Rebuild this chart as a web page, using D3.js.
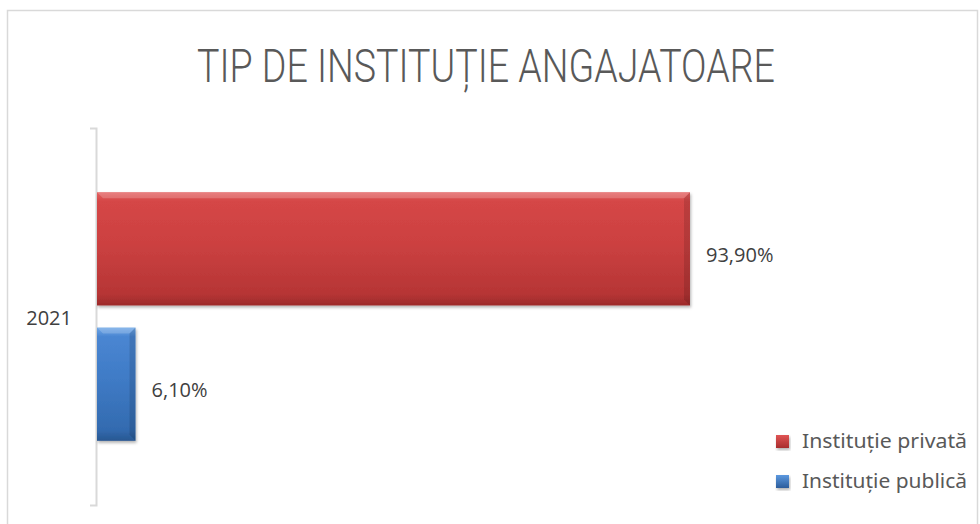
<!DOCTYPE html>
<html>
<head>
<meta charset="utf-8">
<script src="https://cdn.jsdelivr.net/npm/d3@7"></script>
<style>
  body { margin: 0; background: #fff; }
  svg { display: block; }
</style>
</head>
<body>
<div class="my-graph"></div>
<script>
const categories = ['2021']
const seriesNames = ['Instituție privată', 'Instituție publică']
const seriesValues = [93.9, 6.1]
const valueLabels = ['93,90%', '6,10%']

const width = 980
const height = 524

const svg = d3.select('.my-graph')
  .append('svg')
  .attr('width', width)
  .attr('height', height)

const defs = svg.append('defs')

const palettes = [
  { id: 'gradRed', stops: ['#e46464', '#d54646', '#cc4141', '#b63535', '#9c2a2a'], legend: ['#e05555', '#a82c2c'] },
  { id: 'gradBlue', stops: ['#6fa7e6', '#4a86d2', '#3f7bc6', '#336bb0', '#285791'], legend: ['#5c98df', '#2b5d9b'] }
]

palettes.forEach(p => {
  const g = defs.append('linearGradient')
    .attr('id', p.id)
    .attr('x1', 0).attr('y1', 0).attr('x2', 0).attr('y2', 1)
  const offs = [0, 0.08, 0.45, 0.9, 1]
  p.stops.forEach((c, i) => {
    g.append('stop').attr('offset', offs[i]).attr('stop-color', c)
  })
  const gl = defs.append('linearGradient')
    .attr('id', p.id + 'L')
    .attr('x1', 0).attr('y1', 0).attr('x2', 0).attr('y2', 1)
  gl.append('stop').attr('offset', 0).attr('stop-color', p.legend[0])
  gl.append('stop').attr('offset', 1).attr('stop-color', p.legend[1])
})

const shadow = defs.append('filter')
  .attr('id', 'shadow')
  .attr('x', '-5%').attr('y', '-10%')
  .attr('width', '115%').attr('height', '130%')
shadow.append('feDropShadow')
  .attr('dx', 1).attr('dy', 2)
  .attr('stdDeviation', 1.5)
  .attr('flood-color', '#000')
  .attr('flood-opacity', 0.3)

// chart frame
svg.append('rect')
  .attr('x', 7.5).attr('y', 10.5)
  .attr('width', 970).attr('height', 530)
  .attr('fill', 'none')
  .attr('stroke', '#d9d9d9')
  .attr('stroke-width', 1.5)

svg.append('text')
  .attr('x', 486)
  .attr('y', 82)
  .attr('text-anchor', 'middle')
  .attr('font-family', 'Roboto, "Noto Sans", sans-serif')
  .attr('font-weight', 300)
  .attr('font-size', 46)
  .attr('fill', '#595959')
  .attr('textLength', 578)
  .attr('lengthAdjust', 'spacingAndGlyphs')
  .text('TIP DE INSTITUȚIE ANGAJATOARE')

const xScale = d3.scaleLinear()
  .domain([0, 100])
  .range([97, 728.5])

const yScale = d3.scaleBand()
  .domain(categories)
  .range([128, 505])

const inner = d3.scaleBand()
  .domain(seriesNames)
  .range([0, yScale.bandwidth()])
  .paddingInner(0.163)
  .paddingOuter(0.474)

const yAxis = svg.append('g')
  .attr('transform', 'translate(96, 0)')
  .call(d3.axisLeft(yScale).tickSize(0).tickSizeOuter(6).tickPadding(24))

yAxis.select('.domain')
  .attr('stroke', '#d9d9d9')
  .attr('stroke-width', 2)
yAxis.selectAll('.tick text')
  .attr('font-family', '"Open Sans", "Noto Sans", sans-serif')
  .attr('font-size', 20)
  .attr('fill', '#404040')
  .attr('dy', '0.4em')

const data = seriesNames.map((name, i) => ({
  name,
  value: seriesValues[i],
  label: valueLabels[i],
  fill: `url(#${palettes[i].id})`,
  legendFill: `url(#${palettes[i].id}L)`
}))

const bars = svg.selectAll('.bar')
  .data(data)
  .enter().append('g')
  .attr('class', 'bar')

bars.append('rect')
  .attr('x', xScale(0))
  .attr('y', d => yScale(categories[0]) + inner(d.name))
  .attr('width', d => xScale(d.value) - xScale(0))
  .attr('height', inner.bandwidth())
  .attr('fill', d => d.fill)
  .attr('filter', 'url(#shadow)')

// bevel edges
bars.append('path')
  .attr('d', d => {
    const x1 = xScale(d.value)
    const y0 = yScale(categories[0]) + inner(d.name), y1 = y0 + inner.bandwidth()
    const b = 6
    return `M${x1},${y0}L${x1},${y1}L${x1 - b},${y1 - b}L${x1 - b},${y0 + b}Z`
  })
  .attr('fill', '#000')
  .attr('opacity', 0.12)

bars.append('path')
  .attr('d', d => {
    const x0 = xScale(0), x1 = xScale(d.value)
    const y0 = yScale(categories[0]) + inner(d.name)
    const b = 6
    return `M${x0},${y0}L${x1},${y0}L${x1 - b},${y0 + b}L${x0 + b},${y0 + b}Z`
  })
  .attr('fill', '#fff')
  .attr('opacity', 0.18)

bars.append('text')
  .attr('x', d => xScale(d.value) + 16)
  .attr('y', d => yScale(categories[0]) + inner(d.name) + inner.bandwidth() / 2 + 6)
  .attr('dy', '0.35em')
  .attr('font-family', '"Open Sans", "Noto Sans", sans-serif')
  .attr('font-size', 20)
  .attr('fill', '#404040')
  .text(d => d.label)

const legend = svg.selectAll('.legend')
  .data(data)
  .enter().append('g')
  .attr('class', 'legend')
  .attr('transform', (d, i) => `translate(776, ${435 + i * 40})`)

legend.append('rect')
  .attr('width', 13).attr('height', 13)
  .attr('fill', d => d.legendFill)
  .attr('filter', 'url(#shadow)')

legend.append('text')
  .attr('x', 26)
  .attr('y', 6.5)
  .attr('dy', '0.35em')
  .attr('font-family', '"Noto Sans", sans-serif')
  .attr('font-size', 19)
  .attr('fill', '#595959')
  .attr('textLength', 165)
  .attr('lengthAdjust', 'spacingAndGlyphs')
  .text(d => d.name)
</script>
</body>
</html>
